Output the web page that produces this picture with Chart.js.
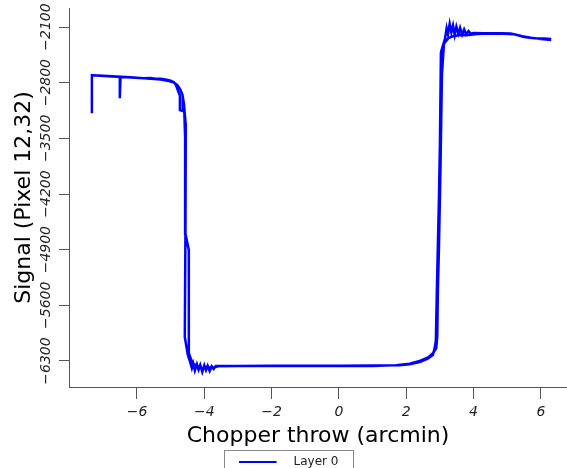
<!DOCTYPE html>
<html>
<head>
<meta charset="utf-8">
<script src="https://cdn.jsdelivr.net/npm/chart.js@4"></script>
<style>
  body { margin: 0; background: #fff; overflow: hidden; }
</style>
</head>
<body>
<canvas id="myChart" width="567" height="478"></canvas>
<script>
// chopper scan, forward pass then the way back
var scanX = [
  -7.34, -7.34, -7.10, -6.85, -6.60, -6.51, -6.51, -6.49, -6.30, -6.05,
  -5.80, -5.60, -5.45, -5.30, -5.15, -5.00, -4.90, -4.84, -4.78, -4.725,
  -4.725, -4.64, -4.64, -4.60, -4.55, -4.56, -4.58, -4.49, -4.43, -4.37,
  -4.33, -4.28, -4.22, -4.17, -4.12, -4.06, -4.00, -3.95, -3.90, -3.84,
  -3.78, -3.72, -3.66, -3.0, -2.0, -1.0, 0.0, 1.0, 1.8, 2.1,
  2.4, 2.64, 2.79, 2.85, 2.88, 2.91, 2.97, 3.00, 3.03, 3.09,
  3.15, 3.20, 3.24, 3.29, 3.34, 3.39, 3.44, 3.49, 3.55, 3.60,
  3.66, 3.72, 3.78, 3.85, 3.92, 4.00, 4.3, 4.8, 5.1, 5.3,
  5.5, 5.8, 6.1, 6.27,
  6.27, 6.0, 5.7, 5.45, 5.2, 4.9, 4.5, 4.1, 3.8, 3.6,
  3.4, 3.25, 3.12, 3.06, 3.02, 2.97, 2.94, 2.92, 2.89, 2.80,
  2.65, 2.4, 2.1, 1.7, 1.0, 0.0, -1.0, -2.0, -3.0, -3.6,
  -3.8, -3.9, -4.05, -4.2, -4.35, -4.42, -4.46, -4.46, -4.56, -4.57,
  -4.60, -4.65, -4.72, -4.80, -4.90, -5.05, -5.30, -5.60, -5.90, -6.20,
  -6.60, -7.00, -7.34
];
var scanY = [
  -3183, -2706, -2712, -2718, -2724, -2727, -2995, -2730, -2733, -2738,
  -2744, -2741, -2750, -2752, -2760, -2775, -2795, -2830, -2905, -2960,
  -3146, -3158, -2990, -3100, -3334, -4654, -5998, -6225, -6300, -6390,
  -6330, -6420, -6340, -6410, -6350, -6438, -6355, -6415, -6360, -6425,
  -6365, -6400, -6363, -6362, -6364, -6360, -6362, -6358, -6352, -6340,
  -6312, -6270, -6225, -6125, -6040, -5400, -4280, -3590, -2420, -2330,
  -2250, -2115, -2190, -2060, -2170, -2080, -2200, -2095, -2185, -2110,
  -2195, -2130, -2190, -2150, -2185, -2175, -2180, -2178, -2182, -2200,
  -2225, -2240, -2245, -2250,
  -2262, -2252, -2235, -2215, -2192, -2185, -2183, -2188, -2205, -2200,
  -2215, -2240, -2310, -2700, -3800, -4900, -5400, -6000, -6140, -6200,
  -6255, -6300, -6335, -6352, -6362, -6360, -6363, -6361, -6364, -6366,
  -6395, -6368, -6405, -6365, -6330, -6250, -6199, -4905, -4700, -3500,
  -3080, -2950, -2880, -2830, -2800, -2780, -2760, -2750, -2740, -2733,
  -2722, -2714, -2708
];
var xTicks = [-6, -4, -2, 0, 2, 4, 6];
var yTicks = [-6300, -5600, -4900, -4200, -3500, -2800, -2100];

function minus(v) {
  return v < 0 ? "\u2212" + Math.abs(v) : String(v);
}

// legend sample: a short line with some room after it
var swatch = document.createElement("canvas");
swatch.width = 49;
swatch.height = 4;
var sctx = swatch.getContext("2d");
sctx.strokeStyle = "#0000ff";
sctx.lineWidth = 2;
sctx.beginPath();
sctx.moveTo(0, 2);
sctx.lineTo(38, 2);
sctx.stroke();

var legendFrame = {
  id: "legendFrame",
  afterDraw: function (chart) {
    var lg = chart.legend;
    var hb = lg.legendHitBoxes[0];
    var c = chart.ctx;
    c.save();
    c.strokeStyle = "#888";
    c.lineWidth = 1;
    c.strokeRect(Math.round(hb.left - 15) + 0.5, lg.top + 0.5, Math.round(hb.width + 29), 40);
    c.restore();
  }
};

var ctx = document.getElementById("myChart").getContext("2d");
var chart = new Chart(ctx, {
  type: "line",
  data: {
    datasets: [
      {
        label: "Layer 0",
        data: scanX.map(function (x, i) { return { x: x, y: scanY[i] }; }),
        borderColor: "#0000ff",
        backgroundColor: "#0000ff",
        borderWidth: 2.5,
        pointRadius: 0,
        tension: 0,
        fill: false
      }
    ]
  },
  options: {
    responsive: false,
    animation: false,
    devicePixelRatio: 1,
    layout: { padding: { top: 8, left: 10, right: 0, bottom: 0 } },
    plugins: {
      tooltip: { enabled: false },
      legend: {
        position: "bottom",
        labels: {
          usePointStyle: true,
          pointStyle: swatch,
          pointStyleWidth: 49,
          padding: 6,
          color: "#222",
          font: { family: "DejaVu Sans", size: 12 }
        }
      }
    },
    scales: {
      x: {
        type: "linear",
        min: -8.02,
        max: 6.776,
        afterBuildTicks: function (scale) {
          scale.ticks = xTicks.map(function (v) { return { value: v }; });
        },
        afterFit: function (scale) {
          scale.height = 63;
        },
        grid: { drawOnChartArea: false, tickLength: 12, color: "#555" },
        border: { color: "#555" },
        ticks: {
          padding: 5,
          color: "#222",
          maxRotation: 0,
          font: { family: "DejaVu Sans", size: 14, style: "italic" },
          callback: function (v) { return minus(v); }
        },
        title: {
          display: true,
          text: "Chopper throw (arcmin)",
          color: "#000",
          font: { family: "DejaVu Sans", size: 22, lineHeight: 1 },
          padding: { top: 0, bottom: 3 }
        }
      },
      y: {
        type: "linear",
        min: -6627,
        max: -1861,
        afterBuildTicks: function (scale) {
          scale.ticks = yTicks.map(function (v) { return { value: v }; });
        },
        afterFit: function (scale) {
          scale.width = 59;
          scale.paddingTop = 0;
          scale.paddingBottom = 0;
        },
        grid: { drawOnChartArea: false, tickLength: 10, color: "#555" },
        border: { color: "#555" },
        ticks: {
          minRotation: 90,
          maxRotation: 90,
          crossAlign: "center",
          padding: -10.6,
          color: "#222",
          font: { family: "DejaVu Sans", size: 14, style: "italic" },
          callback: function (v) { return minus(v); }
        },
        title: {
          display: true,
          text: "Signal (Pixel 12,32)",
          color: "#000",
          font: { family: "DejaVu Sans", size: 22, lineHeight: 1 },
          padding: { top: 3, bottom: 0 }
        }
      }
    }
  },
  plugins: [legendFrame]
});
</script>
</body>
</html>
